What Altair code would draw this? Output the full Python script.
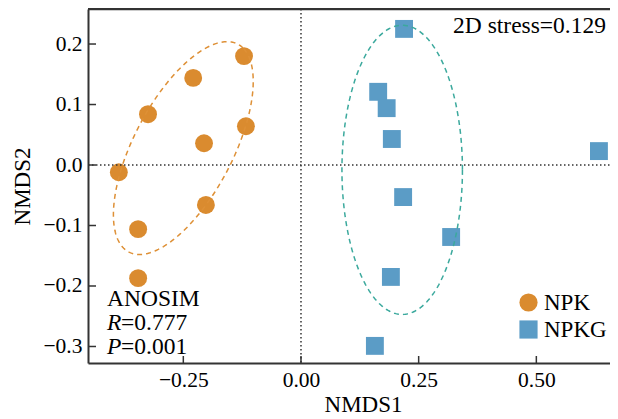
import numpy as np
import pandas as pd
import altair as alt

# ---- data ----
groups = ["NPK", "NPKG"]
npk_x = [-0.121, -0.229, -0.325, -0.206, -0.117, -0.387, -0.202, -0.346, -0.346]
npk_y = [0.180, 0.144, 0.084, 0.036, 0.064, -0.012, -0.066, -0.106, -0.187]
npkg_x = [0.219, 0.164, 0.182, 0.193, 0.633, 0.217, 0.319, 0.191, 0.157]
npkg_y = [0.225, 0.121, 0.094, 0.043, 0.023, -0.053, -0.119, -0.185, -0.299]

# confidence ellipse parameters (centre, semi-axes, rotation in degrees)
ell_npk = {"cx": -0.250, "cy": 0.028, "a": 0.2085, "b": 0.0977, "angle": 52.6}
ell_npkg = {"cx": 0.215, "cy": -0.008, "a": 0.128, "b": 0.239, "angle": 0.0}

x_ticks = [-0.25, 0.0, 0.25, 0.5]
y_ticks = [-0.3, -0.2, -0.1, 0.0, 0.1, 0.2]
x_domain = [-0.4525, 0.6565]
y_domain = [-0.3273, 0.2579]

stress_text = "2D stress=0.129"
anosim_title = "ANOSIM"
r_label, r_value = "R", "=0.777"
p_label, p_value = "P", "=0.001"

colors = ["#DA8B2F", "#5B9CC6"]
ell_colors = ["#DE9036", "#3BA99D"]

W, H = 522, 354
FONT = "Liberation Serif"


def ellipse_df(p, n=241):
    t = np.linspace(0, 2 * np.pi, n)
    phi = np.radians(p["angle"])
    x = p["cx"] + p["a"] * np.cos(t) * np.cos(phi) - p["b"] * np.sin(t) * np.sin(phi)
    y = p["cy"] + p["a"] * np.cos(t) * np.sin(phi) + p["b"] * np.sin(t) * np.cos(phi)
    return pd.DataFrame({"x": x, "y": y, "i": np.arange(n)})


pts = pd.concat([
    pd.DataFrame({"x": npk_x, "y": npk_y, "group": groups[0]}),
    pd.DataFrame({"x": npkg_x, "y": npkg_y, "group": groups[1]}),
], ignore_index=True)

xs = alt.Scale(domain=x_domain, nice=False, zero=False)
ys = alt.Scale(domain=y_domain, nice=False, zero=False)

x_axis = alt.Axis(values=x_ticks, format=".2f", ticks=False, tickSize=0, grid=False,
                  labelPadding=6, titlePadding=3, titleX=275, domainColor="#333333", domainWidth=2,
                  labelFont=FONT, labelFontSize=21.5, labelColor="black",
                  titleFont=FONT, titleFontSize=23, titleFontWeight="normal", titleColor="black")
y_axis = alt.Axis(values=y_ticks, format=".1f", ticks=False, tickSize=0, grid=False,
                  labelPadding=6, titlePadding=8, domainColor="#333333", domainWidth=2,
                  labelFont=FONT, labelFontSize=21.5, labelColor="black",
                  titleFont=FONT, titleFontSize=23, titleFontWeight="normal", titleColor="black")

X = alt.X("x:Q", scale=xs, axis=x_axis, title="NMDS1")
Y = alt.Y("y:Q", scale=ys, axis=y_axis, title="NMDS2")

legend = alt.Legend(title=None, orient="none", legendX=429, legendY=282, symbolSize=330,
                    labelFont=FONT, labelFontSize=23, labelColor="black", padding=0,
                    rowPadding=3, labelOffset=4, symbolStrokeWidth=0, symbolOpacity=1)

# zero reference lines
zero_v = alt.Chart(pd.DataFrame({"x": [0.0]})).mark_rule(
    color="#333333", strokeWidth=1.5, strokeDash=[1.5, 2.5]
).encode(x=X, y=alt.value(0), y2=alt.value(H))
zero_h = alt.Chart(pd.DataFrame({"y": [0.0]})).mark_rule(
    color="#333333", strokeWidth=1.5, strokeDash=[1.5, 2.5]
).encode(y=Y, x=alt.value(0), x2=alt.value(W))

ell1 = alt.Chart(ellipse_df(ell_npk)).mark_line(
    strokeWidth=1.5, strokeDash=[5, 4], color=ell_colors[0]
).encode(x=X, y=Y, order="i:Q")
ell2 = alt.Chart(ellipse_df(ell_npkg)).mark_line(
    strokeWidth=1.5, strokeDash=[5, 4], color=ell_colors[1]
).encode(x=X, y=Y, order="i:Q")

points = alt.Chart(pts).mark_point(filled=True, opacity=1, size=320).encode(
    x=X, y=Y,
    color=alt.Color("group:N", scale=alt.Scale(domain=groups, range=colors), legend=legend),
    shape=alt.Shape("group:N", scale=alt.Scale(domain=groups, range=["circle", "square"]), legend=legend),
)

# inward ticks and top border
yt = alt.Chart(pd.DataFrame({"y": y_ticks})).mark_rule(color="#333333", strokeWidth=1.5).encode(
    y=Y, x=alt.value(0), x2=alt.value(8))
xt = alt.Chart(pd.DataFrame({"x": x_ticks})).mark_rule(color="#333333", strokeWidth=1.5).encode(
    x=X, y=alt.value(H), y2=alt.value(H - 7))
top = alt.Chart(pd.DataFrame({"k": [0]})).mark_rule(color="#333333", strokeWidth=2.5).encode(
    y=alt.value(0), x=alt.value(0), x2=alt.value(W + 5))

txt = dict(font=FONT, fontSize=23.5, color="black", baseline="alphabetic")
stress = alt.Chart(pd.DataFrame({"t": [stress_text]})).mark_text(align="right", **txt).encode(
    x=alt.value(518), y=alt.value(24), text="t:N")
anosim = alt.Chart(pd.DataFrame({"t": [anosim_title]})).mark_text(align="left", **txt).encode(
    x=alt.value(19), y=alt.value(297), text="t:N")
r1 = alt.Chart(pd.DataFrame({"t": [r_label]})).mark_text(align="left", fontStyle="italic", **txt).encode(
    x=alt.value(19), y=alt.value(321), text="t:N")
r2 = alt.Chart(pd.DataFrame({"t": [r_value]})).mark_text(align="left", **txt).encode(
    x=alt.value(33), y=alt.value(321), text="t:N")
p1 = alt.Chart(pd.DataFrame({"t": [p_label]})).mark_text(align="left", fontStyle="italic", **txt).encode(
    x=alt.value(19), y=alt.value(345), text="t:N")
p2 = alt.Chart(pd.DataFrame({"t": [p_value]})).mark_text(align="left", **txt).encode(
    x=alt.value(33), y=alt.value(345), text="t:N")

chart = alt.layer(
    points, zero_v, zero_h, ell1, ell2, yt, xt, top, stress, anosim, r1, r2, p1, p2
).properties(
    width=W, height=H,
    autosize=alt.AutoSizeParams(type="none"),
    padding={"left": 80, "top": 1, "right": 0, "bottom": 55},
    background="white",
).configure_view(stroke=None)

chart.save("out.html", embed_options={"renderer": "svg", "actions": False})
